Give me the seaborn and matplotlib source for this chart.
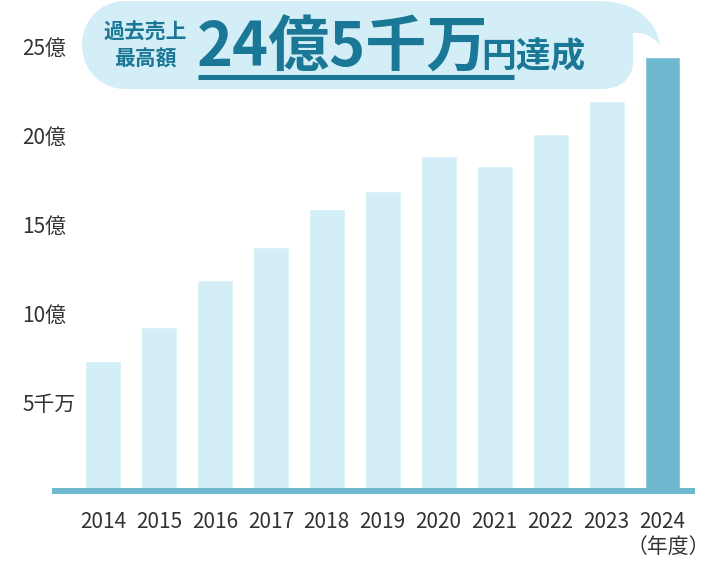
import matplotlib
matplotlib.use("Agg")
import matplotlib.pyplot as plt
import seaborn as sns
from matplotlib.path import Path
from matplotlib.patches import PathPatch

years = ["2014", "2015", "2016", "2017", "2018", "2019",
         "2020", "2021", "2022", "2023", "2024"]
sales = [7.5, 9.4, 12.05, 13.85, 16.0, 17.0, 19.0, 18.45, 20.2, 22.1, 24.55]
ytick_vals = [5, 10, 15, 20, 25]
ytick_labels = ["5千万", "10億", "15億", "20億", "25億"]

light = "#d4eef7"
dark = "#6fb9d0"
teal = "#1a7795"
grey = "#333333"

sns.set_theme(style="white")
plt.rcParams["font.family"] = ["Noto Sans CJK JP", "DejaVu Sans"]

W, H = 710, 565
fig = plt.figure(figsize=(W / 100, H / 100), dpi=100)

# main axes: x from 52px to 695px, y=0 at 494px from the top
px_unit = 17.8
ax = fig.add_axes([52 / W, (H - 494) / H, (695 - 52) / W, 494 / H])
colors = [light] * (len(years) - 1) + [dark]
sns.barplot(x=years, y=sales, hue=years, palette=colors, legend=False,
            width=0.643, saturation=1, ax=ax, zorder=2)
step = 55.95
ax.set_xlim(-51 / step, 10 + 32.5 / step)
ax.set_ylim(0, 494 / px_unit)
ax.axhline(3.4 / px_unit, color=dark, lw=6 * 0.72, zorder=3, clip_on=False,
           solid_capstyle="butt")

ax.set_yticks(ytick_vals)
ax.set_yticklabels([])
for v, lab in zip(ytick_vals, ytick_labels):
    ax.text(-(103 - 22) / step, v, lab, ha="left", va="center",
            fontsize=15, color=grey)
ax.tick_params(axis="x", length=0, pad=12, labelsize=15, labelcolor=grey)
ax.tick_params(axis="y", length=0)
ax.set_xlabel("")
ax.set_ylabel("")
for s in ax.spines.values():
    s.set_visible(False)
ax.text(10.1, -53 / px_unit, "（年度）", ha="center", va="center",
        fontsize=15, color=grey, clip_on=False)

# overlay in pixel coordinates for the speech bubble
ov = fig.add_axes([0, 0, 1, 1], zorder=5)
ov.set_xlim(0, W)
ov.set_ylim(H, 0)
ov.axis("off")
ov.patch.set_alpha(0)

verts = [
    (125, 1), (600, 1),
    (636, 2), (656, 20), (660, 45),
    (652, 36), (642, 32), (633, 33),
    (633, 62),
    (633, 78), (620, 89), (603, 89),
    (125, 89),
    (101, 89), (82, 70), (82, 45),
    (82, 20), (101, 1), (125, 1),
]
codes = [Path.MOVETO, Path.LINETO,
         Path.CURVE4, Path.CURVE4, Path.CURVE4,
         Path.CURVE4, Path.CURVE4, Path.CURVE4,
         Path.LINETO,
         Path.CURVE4, Path.CURVE4, Path.CURVE4,
         Path.LINETO,
         Path.CURVE4, Path.CURVE4, Path.CURVE4,
         Path.CURVE4, Path.CURVE4, Path.CURVE4]
ov.add_patch(PathPatch(Path(verts, codes), facecolor=light, edgecolor="none"))

ov.text(145, 32, "過去売上", ha="center", va="center", fontsize=15,
        fontweight="bold", color=teal)
ov.text(145, 59, "最高額", ha="center", va="center", fontsize=15,
        fontweight="bold", color=teal)
ov.text(197, 67, "24億5千万", ha="left", va="baseline", fontsize=44,
        fontweight="bold", color=teal)
ov.text(481, 67, "円達成", ha="left", va="baseline", fontsize=25,
        fontweight="bold", color=teal)
ov.plot([198, 514], [77, 77], color=teal, lw=5 * 0.72, solid_capstyle="butt")

fig.savefig("out.png", dpi=100)
